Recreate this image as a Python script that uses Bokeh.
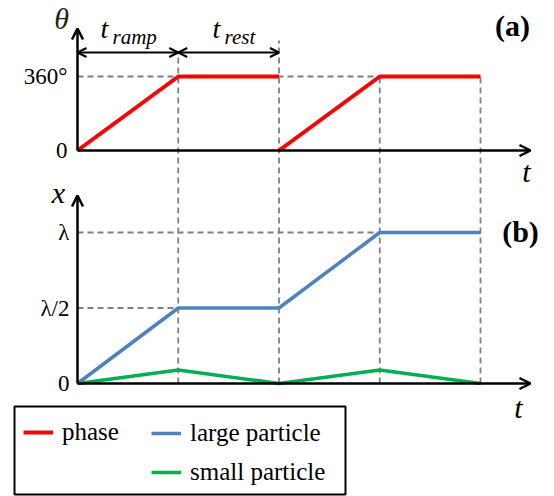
from bokeh.plotting import figure
from bokeh.models import (Range1d, Arrow, OpenHead, Label, Legend, LegendItem,
                          BoxAnnotation)
from bokeh.embed import file_html
from bokeh.resources import INLINE

# ---------------- data ----------------
t_ticks = [0, 1, 2, 3, 4]
phase_t = [[0, 1, 2], [2, 3, 4]]
phase_deg = [[0, 360, 360], [0, 360, 360]]
large_t = [0, 1, 2, 3, 4]
large_x = [0, 0.5, 0.5, 1.0, 1.0]          # in units of lambda
small_t = [0, 1, 2, 3, 4]
small_x = [0, 0.09, 0, 0.09, 0]
theta_ticks = [0, 360]
theta_labels = ["0", "360°"]
x_ticks = [0, 0.5, 1.0]
x_tick_labels = ["0", "λ/2", "λ"]
legend_labels = ["phase", "large particle", "small particle"]

# ---------------- layout (pixel targets) ----------------
W, H = 554, 496
X0_PX, PX_PER_T = 77, 100.75
A0_PX, A360_PX = 150, 76
B0_PX, BL_PX = 383, 232

def tx(px):
    return (px - X0_PX) / PX_PER_T

def ya(py):
    return (A0_PX - py) * 360.0 / (A0_PX - A360_PX)

def yb(py):
    return (B0_PX - py) / (B0_PX - BL_PX)

p = figure(width=W, height=H, output_backend="svg", toolbar_location=None,
           x_range=Range1d(tx(0), tx(W)), y_range=Range1d(ya(H), ya(0)),
           min_border=0, x_axis_location=None, y_axis_location=None)
p.extra_y_ranges = {"b": Range1d(yb(H), yb(0))}
p.xgrid.visible = False
p.ygrid.visible = False
p.outline_line_color = None
p.background_fill_color = "white"
p.border_fill_color = "white"

SERIF = "Liberation Serif"
DASH = dict(line_color="#808080", line_width=1.8, line_dash="6 4")

# vertical guide lines: from top panel down to bottom axis (in panel-b units)
vtops_px = [52, 40, A360_PX, A360_PX]
p.segment(x0=t_ticks[1:], y0=[0] * 4, x1=t_ticks[1:],
          y1=[yb(v) for v in vtops_px], y_range_name="b", **DASH)
# horizontal guides
p.segment(x0=[0], y0=[360], x1=[3], y1=[360], **DASH)
p.segment(x0=[0, 0], y0=[0.5, 1.0], x1=[1, 3], y1=[0.5, 1.0],
          y_range_name="b", **DASH)

# data lines
r_phase = p.multi_line(xs=phase_t, ys=phase_deg, line_color="#ff0000", line_width=4)
r_large = p.line(large_t, large_x, line_color="#4f81bd", line_width=3.5, y_range_name="b")
r_small = p.line(small_t, small_x, line_color="#00b050", line_width=3.5, y_range_name="b")

# axes as arrows
def head():
    return OpenHead(size=11, line_width=2.5, line_color="black")

AX = dict(line_width=2.5, line_color="black")
p.add_layout(Arrow(start=None, end=head(), x_start=0, y_start=0, x_end=0, y_end=ya(28), **AX))
p.add_layout(Arrow(start=None, end=head(), x_start=0, y_start=0, x_end=tx(530), y_end=0, **AX))
p.add_layout(Arrow(start=None, end=head(), x_start=0, y_start=0, x_end=0, y_end=yb(195),
                   y_range_name="b", **AX))
p.add_layout(Arrow(start=None, end=head(), x_start=0, y_start=0, x_end=tx(530), y_end=0,
                   y_range_name="b", **AX))

# duration double arrows
ARR_Y = ya(52)
for a, b in [(0, 1), (1, 2)]:
    p.add_layout(Arrow(start=OpenHead(size=9, line_width=2), end=OpenHead(size=9, line_width=2),
                       x_start=a, y_start=ARR_Y, x_end=b, y_end=ARR_Y,
                       line_width=2, line_color="black"))

def lab(x, y, text, size, yr="default", align="left", baseline="middle",
        style="normal", xoff=0, yoff=0, color="black"):
    p.add_layout(Label(x=x, y=y, text=text, text_font=SERIF, text_font_size=f"{size}px",
                       text_font_style=style, text_align=align, text_baseline=baseline,
                       x_offset=xoff, y_offset=yoff, text_color=color, y_range_name=yr))

# tick labels
for v, s in zip(theta_ticks, theta_labels):
    lab(0, v, s, 23, align="right", xoff=-10)
for v, s in zip(x_ticks, x_tick_labels):
    lab(0, v, s, 23, yr="b", align="right", xoff=-8)

# axis titles
lab(tx(61), ya(18), "θ", 30, align="center", style="italic", color="#2a1f14")
lab(tx(58), yb(192), "x", 30, yr="b", align="center", style="italic")
lab(tx(526), ya(171), "t", 30, align="center", style="italic")
lab(tx(518), yb(407), "t", 30, yr="b", align="center", style="italic")
lab(tx(512), ya(25), "(a)", 30, align="center", style="bold")
lab(tx(520), yb(231), "(b)", 30, yr="b", align="center", style="bold")

# t_ramp / t_rest
lab(tx(100), ya(28), "t", 28, align="left", style="italic")
lab(tx(112), ya(36), "ramp", 21, align="left", style="italic")
lab(tx(212), ya(28), "t", 28, align="left", style="italic")
lab(tx(224), ya(36), "rest", 21, align="left", style="italic")

# legend frame
p.add_layout(BoxAnnotation(left=tx(14), right=tx(345), top=yb(406), bottom=yb(494),
                           y_range_name="b", fill_alpha=0, line_color="black",
                           line_alpha=1.0, line_width=2))

def make_legend(items, loc):
    lg = Legend(items=items, location=loc, orientation="vertical",
                label_text_font=SERIF, label_text_font_size="25px",
                label_text_color="black", glyph_width=30, glyph_height=20,
                label_height=20, label_standoff=9, spacing=11, padding=0,
                margin=0, border_line_color=None, background_fill_alpha=0)
    p.add_layout(lg, "center")
    return lg

make_legend([LegendItem(label=legend_labels[0], renderers=[r_phase])], (23, H - 434 - 12))
make_legend([LegendItem(label=legend_labels[1], renderers=[r_large]),
             LegendItem(label=legend_labels[2], renderers=[r_small])], (151, H - 472 - 14))

open("out.html", "w").write(file_html(p, INLINE))
